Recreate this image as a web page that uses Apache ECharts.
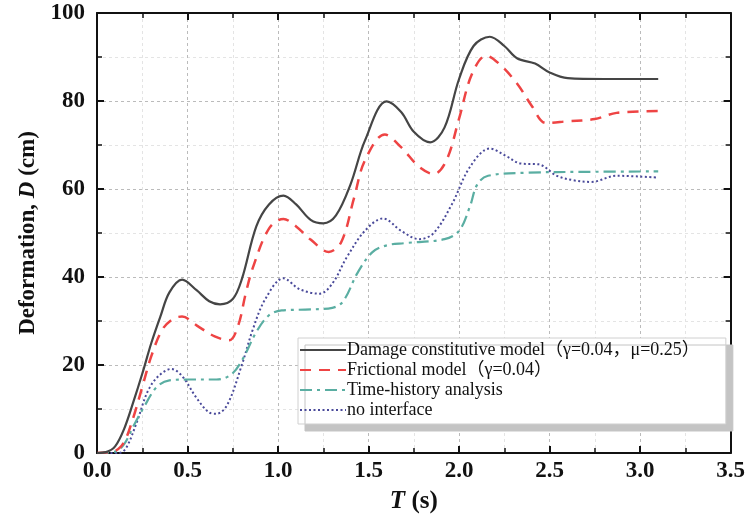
<!DOCTYPE html>
<html>
<head>
<meta charset="utf-8">
<script src="https://cdn.jsdelivr.net/npm/echarts@6/dist/echarts.min.js"></script>
<style>
  html, body { margin: 0; padding: 0; background: #fff; }
</style>
</head>
<body>
<div id="chart" style="width: 748px; height: 519px"></div>
<script>
// time (s), deformation (cm)
const damageModel = [
  [0, 0], [0.05, 0.2], [0.1, 1.5], [0.15, 5.5], [0.2, 11.5], [0.25, 18], [0.3, 25],
  [0.35, 31], [0.4, 36.5], [0.47, 39.4], [0.55, 37], [0.62, 34.5], [0.68, 33.8],
  [0.75, 35], [0.8, 39.5], [0.88, 51.5], [0.95, 56.5], [1.03, 58.5], [1.1, 56.5],
  [1.18, 53], [1.25, 52.2], [1.32, 54], [1.4, 61], [1.48, 71], [1.6, 79.9],
  [1.68, 77.5], [1.75, 73], [1.84, 70.6], [1.92, 74], [2.0, 85], [2.08, 92.5],
  [2.17, 94.6], [2.25, 92.5], [2.32, 89.7], [2.42, 88.5], [2.5, 86.5], [2.6, 85.2],
  [2.8, 85], [3.1, 85]
];
const frictionalModel = [
  [0, 0], [0.1, 0.5], [0.15, 2.5], [0.2, 8], [0.25, 15], [0.3, 22], [0.36, 28],
  [0.42, 30.5], [0.47, 31], [0.55, 29], [0.65, 26.5], [0.73, 25.6], [0.78, 29],
  [0.82, 36], [0.86, 42], [0.95, 51], [1.03, 53.2], [1.1, 51.5], [1.18, 48.5],
  [1.28, 45.7], [1.35, 48], [1.42, 58], [1.48, 66.5], [1.59, 72.4], [1.68, 69.5],
  [1.78, 65], [1.86, 63.4], [1.93, 66.5], [2.0, 76], [2.07, 86], [2.15, 90.3],
  [2.22, 88.5], [2.32, 84], [2.4, 79], [2.48, 75], [2.6, 75.4], [2.75, 75.9],
  [2.87, 77.3], [3.1, 77.7]
];
const timeHistory = [
  [0, 0], [0.1, 0.3], [0.15, 2], [0.2, 6], [0.26, 10.5], [0.33, 15], [0.4, 16.5],
  [0.5, 16.7], [0.66, 16.7], [0.74, 17.8], [0.8, 21], [0.88, 27.5], [0.95, 31.3],
  [1.02, 32.4], [1.15, 32.6], [1.3, 33], [1.36, 34.5], [1.44, 41], [1.52, 45.6],
  [1.6, 47.2], [1.7, 47.7], [1.92, 48.6], [2.0, 50.5], [2.06, 56], [2.1, 61],
  [2.16, 63], [2.38, 63.7], [2.7, 63.9], [3.1, 64]
];
const noInterface = [
  [0, 0], [0.12, 0], [0.16, 1.1], [0.22, 7], [0.28, 14], [0.34, 17.5], [0.41, 19.1],
  [0.47, 17.5], [0.55, 12.5], [0.62, 9.2], [0.66, 8.9], [0.72, 11], [0.8, 20],
  [0.86, 28], [0.93, 35], [1.03, 39.7], [1.12, 37.2], [1.23, 36.2], [1.3, 38.5],
  [1.38, 44.5], [1.48, 50.5], [1.58, 53.3], [1.68, 50.5], [1.78, 48.6], [1.86, 50],
  [1.96, 56.5], [2.06, 65], [2.17, 69.2], [2.26, 67.5], [2.34, 65.8], [2.44, 65.6],
  [2.54, 63], [2.63, 62], [2.73, 61.6], [2.87, 63], [3.1, 62.6]
];
const seriesNames = [
  'Damage constitutive model（γ=0.04，μ=0.25）',
  'Frictional model（γ=0.04）',
  'Time-history analysis',
  'no interface'
];

const serif = '"Liberation Serif", "Times New Roman", serif';
const chart = echarts.init(document.getElementById('chart'));

const frameAxis = (pos, isX) => ({
  type: 'value',
  position: pos,
  min: 0,
  max: isX ? 3.5 : 100,
  interval: isX ? 0.5 : 20,
  axisLine: { show: true, onZero: false, lineStyle: { color: '#111', width: 2 } },
  axisTick: { show: true, inside: true, length: 7, lineStyle: { color: '#111', width: 2 } },
  minorTick: { show: true, splitNumber: 2, length: 5, lineStyle: { color: '#111', width: 1.5 } },
  axisLabel: { show: false },
  splitLine: { show: false }
});

chart.setOption({
  animation: false,
  grid: { left: 97, right: 13, top: 13, bottom: 64 },
  legend: {
    data: seriesNames,
    orient: 'vertical',
    left: 298,
    top: 338,
    padding: [3, 26, 5, 1],
    itemGap: 2,
    itemWidth: 46,
    itemHeight: 14,
    backgroundColor: '#fff',
    borderColor: '#d0d0d0',
    borderWidth: 1,
    shadowColor: '#c4c4c4',
    shadowOffsetX: 7,
    shadowOffsetY: 7,
    shadowBlur: 0,
    itemStyle: { opacity: 0 },
    textStyle: { fontFamily: serif + ', "Noto Sans CJK SC"', fontSize: 18, color: '#111', padding: [0, 0, 0, -4] }
  },
  xAxis: [
    {
      type: 'value',
      min: 0,
      max: 3.5,
      interval: 0.5,
      name: '{i|T} (s)',
      nameLocation: 'middle',
      nameGap: 36,
      nameTextStyle: {
        fontFamily: serif, fontSize: 25, fontWeight: 'bold', color: '#111',
        rich: { i: { fontFamily: serif, fontSize: 25, fontWeight: 'bold', fontStyle: 'italic', color: '#111' } }
      },
      axisLine: { show: true, onZero: false, lineStyle: { color: '#111', width: 2 } },
      axisTick: { show: true, inside: true, length: 7, lineStyle: { color: '#111', width: 2 } },
      minorTick: { show: true, splitNumber: 2, length: 5, lineStyle: { color: '#111', width: 1.5 } },
      axisLabel: {
        fontFamily: serif, fontSize: 23, fontWeight: 'bold', color: '#111', margin: 7,
        formatter: v => v.toFixed(1)
      },
      splitLine: { show: true, lineStyle: { color: '#bbb', type: [3, 3], width: 1 } },
      minorSplitLine: { show: true, lineStyle: { color: '#e4e4e4', type: [3, 3], width: 1 } }
    },
    frameAxis('top', true)
  ],
  yAxis: [
    {
      type: 'value',
      min: 0,
      max: 100,
      interval: 20,
      name: 'Deformation, {i|D} (cm)',
      nameLocation: 'middle',
      nameGap: 55,
      nameRotate: 90,
      nameTextStyle: {
        fontFamily: serif, fontSize: 23, fontWeight: 'bold', color: '#111',
        rich: { i: { fontFamily: serif, fontSize: 23, fontWeight: 'bold', fontStyle: 'italic', color: '#111' } }
      },
      axisLine: { show: true, onZero: false, lineStyle: { color: '#111', width: 2 } },
      axisTick: { show: true, inside: true, length: 7, lineStyle: { color: '#111', width: 2 } },
      minorTick: { show: true, splitNumber: 2, length: 5, lineStyle: { color: '#111', width: 1.5 } },
      axisLabel: { fontFamily: serif, fontSize: 23, fontWeight: 'bold', color: '#111', margin: 12 },
      splitLine: { show: true, lineStyle: { color: '#bbb', type: [3, 3], width: 1 } },
      minorSplitLine: { show: true, lineStyle: { color: '#e4e4e4', type: [3, 3], width: 1 } }
    },
    frameAxis('right', false)
  ],
  series: [
    {
      name: seriesNames[0], type: 'line', data: damageModel, smooth: 0.35,
      showSymbol: false, symbol: 'none', z: 5,
      lineStyle: { color: '#454545', width: 2.2 }, itemStyle: { color: '#454545' }
    },
    {
      name: seriesNames[1], type: 'line', data: frictionalModel, smooth: 0.35,
      showSymbol: false, symbol: 'none', z: 4,
      lineStyle: { color: '#ee4444', width: 2.5, type: [11, 8] }, itemStyle: { color: '#ee4444' }
    },
    {
      name: seriesNames[2], type: 'line', data: timeHistory, smooth: 0.35,
      showSymbol: false, symbol: 'none', z: 3,
      lineStyle: { color: '#5aaea2', width: 2.2, type: [12, 5, 3, 5] }, itemStyle: { color: '#5aaea2' }
    },
    {
      name: seriesNames[3], type: 'line', data: noInterface, smooth: 0.35,
      showSymbol: false, symbol: 'none', z: 2,
      lineStyle: { color: '#4a4a9a', width: 2, type: [2, 2.5] }, itemStyle: { color: '#4a4a9a' }
    }
  ]
});
</script>
</body>
</html>
